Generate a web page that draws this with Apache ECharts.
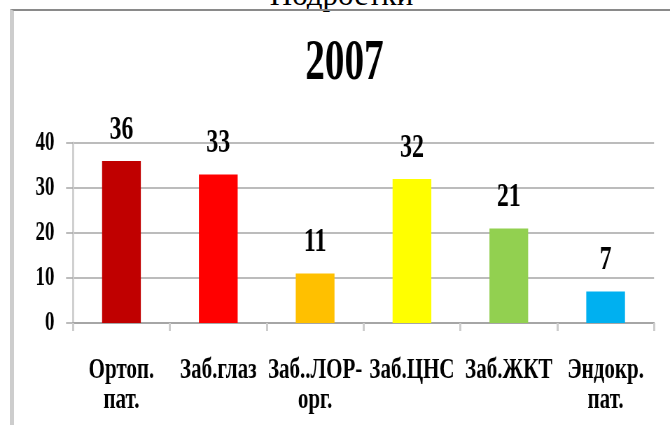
<!DOCTYPE html>
<html>
<head>
<meta charset="utf-8">
<script src="https://cdn.jsdelivr.net/npm/echarts@6/dist/echarts.min.js"></script>
<style>
  html, body { margin: 0; padding: 0; width: 670px; height: 425px; overflow: hidden; background: #fff; }
  #heading { position: absolute; left: 0; width: 683px; top: -21px; text-align: center;
             font-family: "Liberation Serif", serif; font-size: 31px; line-height: 31px; color: #000; }
  #frame { position: absolute; left: 10px; top: 9px; width: 700px; height: 500px;
           border-top: 2px solid #8a8a8a; border-left: 4px solid #cdcdcd; box-sizing: border-box; }
  #chart { position: absolute; left: 0; top: 0; width: 957px; height: 425px;
           transform: scaleX(0.7001); transform-origin: 0 0; }
</style>
</head>
<body>
<div id="heading">Подростки</div>
<div id="chart"></div>
<div id="frame"></div>
<script>
const titleText = '2007';
const categories = ['Ортоп.\nпат.', 'Заб.глаз', 'Заб..ЛОР-\nорг.', 'Заб.ЦНС', 'Заб.ЖКТ', 'Эндокр.\nпат.'];
const values = [36, 33, 11, 32, 21, 7];
const barColors = ['#C00000', '#FF0000', '#FFC000', '#FFFF00', '#92D050', '#00B0F0'];
const yMin = 0, yMax = 40, yStep = 10;

const serif = 'Liberation Serif';
const chart = echarts.init(document.getElementById('chart'), null, { renderer: 'canvas' });
chart.setOption({
  animation: false,
  backgroundColor: 'transparent',
  title: {
    text: titleText,
    left: 492,
    top: 37,
    textAlign: 'center',
    padding: 0,
    textStyle: { fontFamily: serif, fontWeight: 'bold', fontSize: 56, lineHeight: 56, color: '#000' }
  },
  grid: { left: 104.3, right: 22.8, top: 143, bottom: 102, containLabel: false },
  xAxis: {
    type: 'category',
    data: categories,
    boundaryGap: true,
    axisLine: { show: true, lineStyle: { color: '#a6a6a6', width: 2 } },
    axisTick: { show: true, alignWithLabel: false, length: 8, lineStyle: { color: '#cccccc', width: 3 } },
    axisLabel: {
      interval: 0, margin: 32,
      fontFamily: serif, fontWeight: 'bold', fontSize: 30, lineHeight: 30, color: '#000'
    },
    splitLine: { show: false }
  },
  yAxis: {
    type: 'value',
    min: yMin, max: yMax, interval: yStep,
    axisLine: { show: true, lineStyle: { color: '#d0d0d0', width: 3 } },
    axisTick: { show: true, length: 10, lineStyle: { color: '#a6a6a6', width: 1.5 } },
    axisLabel: { margin: 26.5, fontFamily: serif, fontWeight: 'bold', fontSize: 27, color: '#000' },
    splitLine: { show: true, lineStyle: { color: '#a6a6a6', width: 1.5 } }
  },
  series: [{
    type: 'bar',
    barWidth: '40%',
    data: values.map((v, i) => ({ value: v, itemStyle: { color: barColors[i] } })),
    label: {
      show: true, position: 'top', distance: 14,
      fontFamily: serif, fontWeight: 'bold', fontSize: 34, lineHeight: 34, color: '#000'
    }
  }]
});
</script>
</body>
</html>
